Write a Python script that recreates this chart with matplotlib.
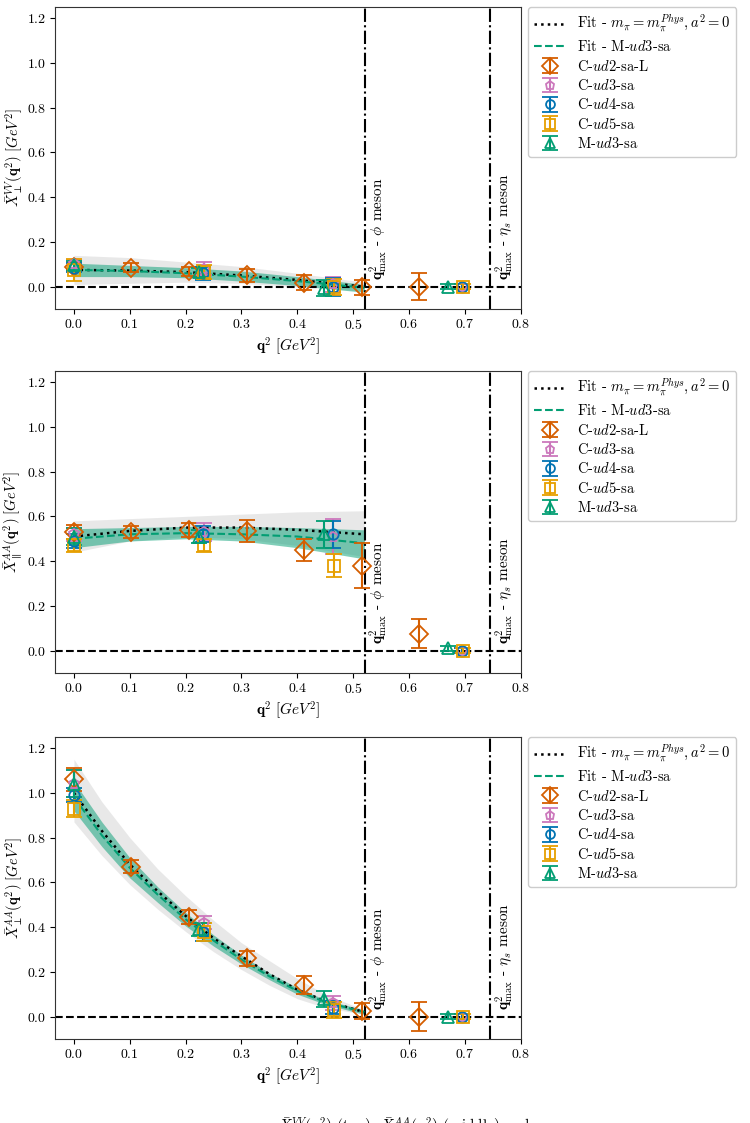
import matplotlib
matplotlib.use("Agg")
import matplotlib.pyplot as plt

plt.rcParams["font.family"] = "serif"
plt.rcParams["font.serif"] = ["cmr10"]
plt.rcParams["mathtext.fontset"] = "cm"
plt.rcParams["axes.formatter.use_mathtext"] = True
plt.rcParams["axes.unicode_minus"] = False

# series names and colours
labels = ["C-$ud2$-sa-L", "C-$ud3$-sa", "C-$ud4$-sa", "C-$ud5$-sa", "M-$ud3$-sa"]
colors = ["#D55E00", "#CC78BC", "#0173B2", "#E69F00", "#029E73"]
markers = ["D", "p", "o", "s", "^"]
msizes = [9.5, 7.5, 7.5, 8, 8]

# q^2 of each ensemble
q2 = [
    [0.0, 0.103, 0.206, 0.31, 0.412, 0.515, 0.618],
    [0.0, 0.232, 0.463, 0.695],
    [0.0, 0.231, 0.463, 0.695],
    [0.0, 0.233, 0.465, 0.697],
    [0.0, 0.224, 0.448, 0.67],
]

# panel 1 : X_perp^VV
vv_y = [
    [0.09, 0.085, 0.068, 0.05, 0.018, -0.003, 0.0],
    [0.10, 0.08, 0.01, 0.0],
    [0.085, 0.06, 0.0, 0.0],
    [0.075, 0.065, 0.0, 0.0],
    [0.095, 0.065, -0.005, 0.0],
]
vv_e = [
    [0.02, 0.02, 0.02, 0.03, 0.035, 0.035, 0.06],
    [0.02, 0.03, 0.035, 0.01],
    [0.02, 0.03, 0.04, 0.01],
    [0.05, 0.03, 0.035, 0.01],
    [0.02, 0.02, 0.035, 0.01],
]

# panel 2 : X_par^AA
apar_y = [
    [0.53, 0.53, 0.54, 0.535, 0.45, 0.38, 0.075],
    [0.52, 0.53, 0.51, 0.0],
    [0.49, 0.52, 0.52, 0.0],
    [0.47, 0.47, 0.38, 0.0],
    [0.51, 0.51, 0.52, 0.01],
]
apar_e = [
    [0.03, 0.025, 0.03, 0.05, 0.05, 0.1, 0.065],
    [0.03, 0.04, 0.08, 0.01],
    [0.03, 0.035, 0.06, 0.01],
    [0.03, 0.03, 0.05, 0.01],
    [0.04, 0.03, 0.06, 0.01],
]

# panel 3 : X_perp^AA
aperp_y = [
    [1.06, 0.67, 0.445, 0.26, 0.14, 0.025, 0.0],
    [1.04, 0.42, 0.06, 0.0],
    [0.99, 0.38, 0.04, 0.0],
    [0.93, 0.38, 0.03, 0.0],
    [1.04, 0.39, 0.08, 0.0],
]
aperp_e = [
    [0.05, 0.03, 0.03, 0.035, 0.04, 0.035, 0.065],
    [0.06, 0.03, 0.03, 0.01],
    [0.03, 0.04, 0.03, 0.01],
    [0.04, 0.04, 0.035, 0.01],
    [0.06, 0.03, 0.035, 0.01],
]

# fit curves
fit_x1 = [0.0, 0.1, 0.2, 0.3, 0.4, 0.52]
vv_phys = [0.075, 0.072, 0.065, 0.05, 0.03, 0.0]
vv_phys_hi = [0.14, 0.13, 0.11, 0.09, 0.06, 0.02]
vv_phys_lo = [0.01, 0.015, 0.02, 0.015, 0.0, -0.02]
vv_m = [0.075, 0.07, 0.06, 0.045, 0.025, -0.005]
vv_m_hi = [0.105, 0.095, 0.085, 0.07, 0.045, 0.01]
vv_m_lo = [0.045, 0.045, 0.04, 0.025, 0.005, -0.025]

apar_phys = [0.51, 0.535, 0.55, 0.55, 0.54, 0.52]
apar_phys_hi = [0.58, 0.59, 0.60, 0.61, 0.62, 0.625]
apar_phys_lo = [0.44, 0.49, 0.51, 0.50, 0.47, 0.42]
apar_m = [0.50, 0.52, 0.525, 0.52, 0.51, 0.48]
apar_m_hi = [0.545, 0.55, 0.555, 0.555, 0.55, 0.54]
apar_m_lo = [0.46, 0.49, 0.50, 0.49, 0.46, 0.41]

fit_x3 = [0.0, 0.05, 0.1, 0.15, 0.2, 0.25, 0.3, 0.35, 0.4, 0.45, 0.52]
aperp_phys = [1.0, 0.83, 0.68, 0.56, 0.45, 0.35, 0.27, 0.19, 0.12, 0.07, 0.02]
aperp_phys_hi = [1.15, 0.96, 0.80, 0.66, 0.54, 0.43, 0.33, 0.25, 0.17, 0.10, 0.03]
aperp_phys_lo = [0.87, 0.72, 0.59, 0.48, 0.38, 0.29, 0.21, 0.14, 0.08, 0.04, 0.01]
aperp_m = [0.98, 0.81, 0.665, 0.545, 0.435, 0.34, 0.255, 0.18, 0.115, 0.065, 0.02]
aperp_m_hi = [1.05, 0.87, 0.71, 0.58, 0.465, 0.365, 0.275, 0.195, 0.13, 0.075, 0.03]
aperp_m_lo = [0.92, 0.76, 0.62, 0.51, 0.405, 0.315, 0.235, 0.165, 0.10, 0.055, 0.01]

q2max_phi = 0.521
q2max_etas = 0.745

panels = [
    (r"$\bar{X}_{\perp}^{VV}(\mathbf{q}^2)\ [GeV^2]$", vv_y, vv_e, fit_x1,
     vv_phys, vv_phys_lo, vv_phys_hi, vv_m, vv_m_lo, vv_m_hi),
    (r"$\bar{X}_{\parallel}^{AA}(\mathbf{q}^2)\ [GeV^2]$", apar_y, apar_e, fit_x1,
     apar_phys, apar_phys_lo, apar_phys_hi, apar_m, apar_m_lo, apar_m_hi),
    (r"$\bar{X}_{\perp}^{AA}(\mathbf{q}^2)\ [GeV^2]$", aperp_y, aperp_e, fit_x3,
     aperp_phys, aperp_phys_lo, aperp_phys_hi, aperp_m, aperp_m_lo, aperp_m_hi),
]

fig = plt.figure(figsize=(7.5, 11.23), dpi=100)
bottoms = [0.7248, 0.4007, 0.0748]

for (ylab, ys, es, fx, ph, ph_lo, ph_hi, mm, mm_lo, mm_hi), b in zip(panels, bottoms):
    ax = fig.add_axes([0.0733, b, 0.621, 0.269])
    ax.fill_between(fx, ph_lo, ph_hi, color="0.75", alpha=0.35, lw=0, zorder=1)
    ax.fill_between(fx, mm_lo, mm_hi, color=colors[4], alpha=0.5, lw=0, zorder=2)
    ax.plot(fx, ph, ":", color="k", lw=1.8, zorder=3,
            label=r"Fit - $m_\pi = m_\pi^{Phys}, a^2 = 0$")
    ax.plot(fx, mm, "--", color=colors[4], lw=1.5, zorder=3, label="Fit - M-$ud3$-sa")
    for i in range(5):
        ax.errorbar(q2[i], ys[i], yerr=es[i], fmt=markers[i], ms=msizes[i],
                    mfc="none", mec=colors[i], color=colors[i], mew=1.3,
                    elinewidth=1.5, capsize=6, capthick=1.3, zorder=4,
                    label=labels[i])
    ax.axhline(0, color="k", ls="--", lw=1.5, zorder=2.5)
    ax.axvline(q2max_phi, color="k", ls="-.", lw=1.5)
    ax.axvline(q2max_etas, color="k", ls="-.", lw=1.5)
    ax.text(q2max_phi + 0.006, 0.03, r"$\mathbf{q}^2_{\rm max}$ - $\phi$ meson",
            rotation=90, ha="left", va="bottom", fontsize=11)
    ax.text(q2max_etas + 0.006, 0.03, r"$\mathbf{q}^2_{\rm max}$ - $\eta_s$ meson",
            rotation=90, ha="left", va="bottom", fontsize=11)
    ax.set_xlim(-0.034, 0.8)
    ax.set_ylim(-0.1, 1.25)
    ax.set_xticks([0.0, 0.1, 0.2, 0.3, 0.4, 0.5, 0.6, 0.7, 0.8])
    ax.set_yticks([0.0, 0.2, 0.4, 0.6, 0.8, 1.0, 1.2])
    ax.tick_params(labelsize=10, pad=3)
    ax.set_xlabel(r"$\mathbf{q}^2\ [GeV^2]$", fontsize=11, labelpad=2)
    ax.set_ylabel(ylab, fontsize=10.5, labelpad=1)
    for s in ax.spines.values():
        s.set_color("0.2")
    ax.legend(loc="upper left", bbox_to_anchor=(1.015, 1.0), fontsize=10.5,
              framealpha=1, edgecolor="0.8", handlelength=2.2, borderaxespad=0,
              markerscale=0.85, labelspacing=0.3)

# caption, cut by the page edge as in the source page
fig.text(0.37, -0.004,
         r"$\bar{X}^{VV}_{\perp}(\mathbf{q}^2)$ (top), $\bar{X}^{AA}_{\parallel}(\mathbf{q}^2)$ (middle) and",
         fontsize=11, va="center", ha="left")

fig.savefig("out.png", dpi=100)
